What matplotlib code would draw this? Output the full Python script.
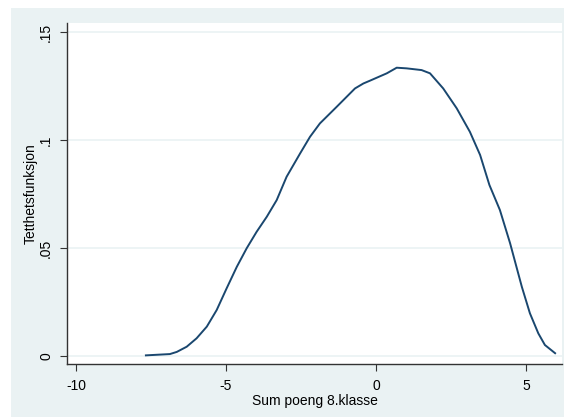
import matplotlib.pyplot as plt
from matplotlib.patches import Rectangle

# kernel density
score = [-7.67, -6.87, -6.64, -6.31, -5.98, -5.64, -5.31, -4.98, -4.64, -4.31,
         -3.98, -3.64, -3.31, -2.98, -2.53, -2.2, -1.87, -1.31, -0.7, -0.42,
         -0.2, 0.36, 0.69, 1.02, 1.52, 1.8, 2.24, 2.69, 3.13, 3.47,
         3.78, 4.13, 4.47, 4.86, 5.13, 5.41, 5.63, 5.97]
density = [0.0003, 0.0009, 0.0019, 0.0043, 0.0082, 0.0136, 0.0213, 0.0313, 0.0413, 0.0499,
           0.0575, 0.0645, 0.0722, 0.0830, 0.0938, 0.1015, 0.1077, 0.1154, 0.1239, 0.1262,
           0.1275, 0.1309, 0.1335, 0.1332, 0.1324, 0.1309, 0.1239, 0.1147, 0.1038, 0.0931,
           0.0792, 0.0676, 0.0522, 0.0321, 0.0198, 0.0105, 0.0051, 0.0013]

xticks = [-10, -5, 0, 5]
yticks = [0, 0.05, 0.1, 0.15]
ytick_labels = ['0', '.05', '.1', '.15']

plt.rcParams['font.family'] = ['Liberation Sans', 'DejaVu Sans']
plt.rcParams['axes.unicode_minus'] = False

fig = plt.figure(figsize=(5.66, 4.17), dpi=100)
# stata style outer band, kept behind the axes
fig.patches.append(Rectangle((11 / 566, 0), 553 / 566, 409 / 417,
                             transform=fig.transFigure, facecolor='#EAF2F3',
                             edgecolor='none', zorder=-5))

ax = fig.add_axes([67 / 566, 53 / 417, 495 / 566, 341 / 417])
ax.set_zorder(1)
ax.set_facecolor('white')
ax.plot(score, density, color='#1A476F', lw=1.4, zorder=3)

ax.set_xlim(-10.3, 6.2)
ax.set_ylim(-0.0037, 0.1542)
ax.set_xticks(xticks)
ax.set_yticks(yticks)
ax.set_yticklabels(ytick_labels, rotation=90, va='center')
ax.grid(axis='y', color='#EAF2F3', lw=1.2, zorder=1)
ax.set_axisbelow(True)

for side in ['top', 'right']:
    ax.spines[side].set_visible(False)
for side in ['left', 'bottom']:
    ax.spines[side].set_color('#333333')
    ax.spines[side].set_linewidth(1.0)

ax.tick_params(axis='both', labelsize=10, length=5, width=0.8, color='#333333')
ax.tick_params(axis='x', pad=6)
ax.tick_params(axis='y', pad=5)

ax.set_xlabel('Sum poeng 8.klasse', fontsize=10, labelpad=0.5)
ax.set_ylabel('Tetthetsfunksjon', fontsize=10, labelpad=1)

fig.savefig('out.png', dpi=100)
